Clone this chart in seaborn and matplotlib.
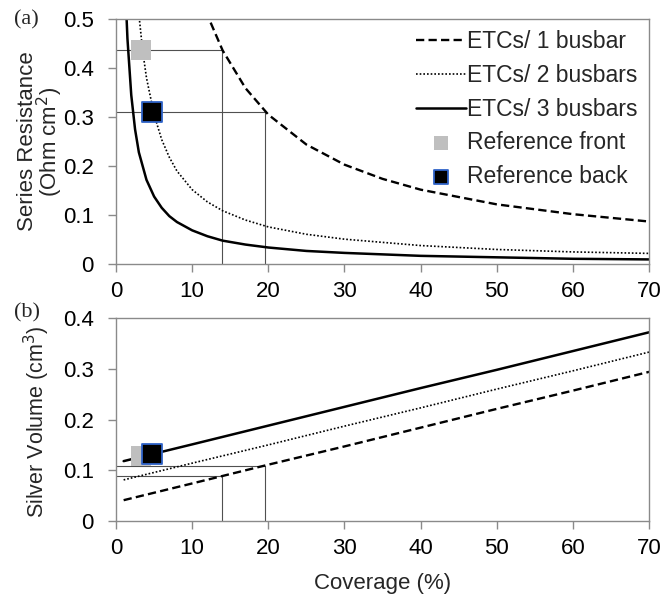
import numpy as np
import pandas as pd
import matplotlib
matplotlib.use("Agg")
import matplotlib.pyplot as plt
import seaborn as sns

# ─── 1. Data ───────────────────────────────────────────────────────────────
# (a) series resistance vs coverage
x_rs_1bb = [10, 12, 14, 17, 20, 25, 30, 35, 40, 50, 60, 70]
rs_1bb = [0.61, 0.508, 0.436, 0.359, 0.305, 0.244, 0.203, 0.174, 0.152, 0.122, 0.102, 0.087]

x_rs_2bb = [2.5, 3, 3.5, 4, 5, 6, 7, 8, 10, 12, 14, 17, 20, 25, 30, 40, 50, 60, 70]
rs_2bb = [0.61, 0.51, 0.435, 0.38, 0.305, 0.254, 0.218, 0.19, 0.152, 0.127, 0.109,
          0.09, 0.076, 0.061, 0.051, 0.038, 0.030, 0.025, 0.022]

x_rs_3bb = [1.2, 1.5, 2, 2.5, 3, 4, 5, 6, 7, 8, 10, 12, 14, 17, 20, 25, 30, 40, 50, 60, 70]
rs_3bb = [0.57, 0.46, 0.345, 0.275, 0.228, 0.172, 0.138, 0.115, 0.098, 0.086, 0.069,
          0.057, 0.048, 0.040, 0.034, 0.027, 0.023, 0.017, 0.014, 0.011, 0.0097]

# (b) silver volume vs coverage
x_sv = [1, 10, 20, 30, 40, 50, 60, 70]
sv_1bb = [0.041, 0.074, 0.111, 0.147, 0.184, 0.221, 0.257, 0.294]
sv_2bb = [0.081, 0.114, 0.150, 0.187, 0.223, 0.260, 0.296, 0.333]
sv_3bb = [0.118, 0.151, 0.188, 0.225, 0.262, 0.298, 0.335, 0.372]

# reference cells (front / back) and guide lines
ref_x = [3.3, 4.7]
ref_rs = [0.437, 0.31]
ref_sv = [0.129, 0.132]
guide_x = [13.9, 19.5]
guide_rs = [0.437, 0.31]
guide_sv = [0.0885, 0.109]

x_ticks = [0, 10, 20, 30, 40, 50, 60, 70]
rs_ticks = [0, 0.1, 0.2, 0.3, 0.4, 0.5]
rs_labels = ["0", "0.1", "0.2", "0.3", "0.4", "0.5"]
sv_ticks = [0, 0.1, 0.2, 0.3, 0.4]
sv_labels = ["0", "0.1", "0.2", "0.3", "0.4"]

# ─── 2. Style ──────────────────────────────────────────────────────────────
sns.set_style("white")
plt.rcParams['font.family'] = ['Liberation Sans', 'DejaVu Sans']
FS = 16
SPINE = "#8a8a8a"
GUIDE = "#505050"
FRONT = "#bfbfbf"
BACK_EDGE = "#2f63c8"

fig = plt.figure(figsize=(6.63, 5.95), dpi=100)
ax1 = fig.add_axes([0.175, 0.556, 0.804, 0.412])
ax2 = fig.add_axes([0.175, 0.1244, 0.804, 0.341])

dash_style = dict(color="black", lw=1.7, dashes=(3.5, 1.8))
dot_style = dict(color="black", lw=1.2, dashes=(1, 1.2))
solid_style = dict(color="black", lw=1.8)

# ─── 3. Panel (a) ──────────────────────────────────────────────────────────
for gx, gy in zip(guide_x, guide_rs):
    ax1.plot([0, gx], [gy, gy], color=GUIDE, lw=0.8, zorder=1)
    ax1.plot([gx, gx], [0, gy], color=GUIDE, lw=0.8, zorder=1)

sns.lineplot(x=x_rs_1bb, y=rs_1bb, ax=ax1, label="ETCs/ 1 busbar", **dash_style)
sns.lineplot(x=x_rs_2bb, y=rs_2bb, ax=ax1, label="ETCs/ 2 busbars", **dot_style)
sns.lineplot(x=x_rs_3bb, y=rs_3bb, ax=ax1, label="ETCs/ 3 busbars", **solid_style)
sns.scatterplot(x=ref_x[:1], y=ref_rs[:1], ax=ax1, marker="s", s=210, color=FRONT,
                edgecolor=FRONT, linewidth=0, label="Reference front", zorder=3)
sns.scatterplot(x=ref_x[1:], y=ref_rs[1:], ax=ax1, marker="s", s=210, color="black",
                edgecolor=BACK_EDGE, linewidth=1.3, label="Reference back", zorder=4)

ax1.set_xlim(0, 70)
ax1.set_ylim(0, 0.5)
ax1.set_yticks(rs_ticks, rs_labels)
ax1.set_ylabel("Series Resistance\n(Ohm cm$^2$)", fontsize=FS, linespacing=0.85)
ax1.yaxis.set_label_coords(-0.096, 0.5)

ax1.legend(loc="upper right", bbox_to_anchor=(1.0, 1.0), frameon=False, fontsize=16.5,
           handlelength=2.2, handletextpad=0.05, labelspacing=0.46, borderaxespad=0.1,
           markerscale=0.72)

# ─── 4. Panel (b) ──────────────────────────────────────────────────────────
for gx, gy in zip(guide_x, guide_sv):
    ax2.plot([0, gx], [gy, gy], color=GUIDE, lw=0.8, zorder=1)
    ax2.plot([gx, gx], [0, gy], color=GUIDE, lw=0.8, zorder=1)

sns.lineplot(x=x_sv, y=sv_1bb, ax=ax2, **dash_style)
sns.lineplot(x=x_sv, y=sv_2bb, ax=ax2, **dot_style)
sns.lineplot(x=x_sv, y=sv_3bb, ax=ax2, **solid_style)
sns.scatterplot(x=ref_x[:1], y=ref_sv[:1], ax=ax2, marker="s", s=210, color=FRONT,
                edgecolor=FRONT, linewidth=0, zorder=3, legend=False)
sns.scatterplot(x=ref_x[1:], y=ref_sv[1:], ax=ax2, marker="s", s=210, color="black",
                edgecolor=BACK_EDGE, linewidth=1.3, zorder=4, legend=False)

ax2.set_xlim(0, 70)
ax2.set_ylim(0, 0.4)
ax2.set_yticks(sv_ticks, sv_labels)
ax2.set_ylabel("Silver Volume (cm$^3$)", fontsize=15.5)
ax2.yaxis.set_label_coords(-0.12, 0.49)
ax2.set_xlabel("Coverage (%)", fontsize=FS, labelpad=10)

# ─── 5. Axes formatting ────────────────────────────────────────────────────
for ax in (ax1, ax2):
    ax.set_xticks(x_ticks, [str(t) for t in x_ticks])
    ax.tick_params(axis="both", direction="out", length=6, width=1, color=SPINE,
                   labelsize=FS, labelcolor="black", left=True, bottom=True)
    ax.tick_params(axis="x", pad=6)
    ax.tick_params(axis="y", pad=10)
    for spine in ax.spines.values():
        spine.set_edgecolor(SPINE)
        spine.set_linewidth(1)

fig.text(0.040, 0.967, "(a)", fontsize=FS, family=["Liberation Serif", "DejaVu Serif"],
         ha="center", va="center")
fig.text(0.041, 0.475, "(b)", fontsize=FS, family=["Liberation Serif", "DejaVu Serif"],
         ha="center", va="center")

fig.savefig("out.png", dpi=100)
